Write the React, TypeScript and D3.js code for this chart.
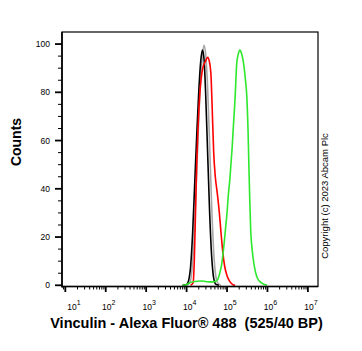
import { useEffect, useRef } from 'react';
import * as d3 from 'd3';

// histogram overlays, x in log10 units, y in counts
const blackLog = [3.9, 4.0, 4.05, 4.1, 4.15, 4.2, 4.25, 4.3, 4.35, 4.39, 4.43, 4.47, 4.52, 4.57, 4.62, 4.67, 4.72, 4.8];
const blackCounts = [0, 0.3, 2, 8, 22, 42, 62, 80, 93, 97.5, 94, 80, 55, 30, 12, 3, 0.5, 0];

const greyLog = [4.0, 4.08, 4.13, 4.18, 4.23, 4.28, 4.33, 4.38, 4.43, 4.47, 4.52, 4.57, 4.62, 4.67, 4.72, 4.77, 4.85];
const greyCounts = [0, 1, 6, 18, 38, 60, 80, 93, 99.5, 96, 82, 58, 33, 14, 4, 1, 0];

const redLog = [4.1, 4.16, 4.19, 4.22, 4.25, 4.28, 4.33, 4.4, 4.47, 4.52, 4.56, 4.6, 4.63, 4.67, 4.71, 4.76, 4.81, 4.85, 4.9, 4.94, 5.0, 5.07, 5.14, 5.2];
const redCounts = [0, 1, 10, 30, 50, 64, 80, 90, 93, 94.5, 93, 88, 75, 55, 45, 38, 30, 22, 13, 8, 4, 1.5, 0.3, 0];

const greenLog = [3.9, 4.0, 4.07, 4.2, 4.35, 4.5, 4.65, 4.75, 4.82, 4.87, 4.92, 4.96, 5.0, 5.03, 5.07, 5.1, 5.13, 5.15, 5.18, 5.2, 5.24, 5.28, 5.32, 5.36, 5.4, 5.45, 5.49, 5.52, 5.54, 5.56, 5.585, 5.62, 5.665, 5.75, 5.85, 5.99];
const greenCounts = [0, 0.3, 1, 1.6, 1.8, 1.5, 1.4, 2, 5, 9, 16, 23, 30, 37, 44, 51, 58, 64, 72, 78, 92, 96, 97.5, 96, 93, 86, 78, 64, 50, 37, 23, 15, 9, 3, 1, 0];

const yTicks = [0, 20, 40, 60, 80, 100];
const xDecades = [1, 2, 3, 4, 5, 6, 7];

export default function App() {
  const svgRef = useRef<SVGSVGElement>(null);

  useEffect(() => {
    if (!svgRef.current) return;
    const svg = d3.select(svgRef.current);
    svg.selectAll('*').remove();

    const left = 62, right = 318, top = 32, bottom = 286.5;
    const font = '"Liberation Sans", Arial, sans-serif';

    const x = d3.scaleLog().domain([Math.pow(10, 0.918), Math.pow(10, 7.25)]).range([left, right]);
    const y = d3.scaleLinear().domain([-0.5, 105]).range([bottom, top]);

    const series = [
      { log: greyLog, counts: greyCounts, color: '#a8a8a8' },
      { log: blackLog, counts: blackCounts, color: '#000000' },
      { log: redLog, counts: redCounts, color: '#ff0000' },
      { log: greenLog, counts: greenCounts, color: '#2ee82e' },
    ];

    const line = d3.line<[number, number]>()
      .x(d => x(Math.pow(10, d[0])))
      .y(d => y(d[1]))
      .curve(d3.curveMonotoneX);

    const g = svg.append('g');
    series.forEach(s => {
      const pts: [number, number][] = s.log.map((l, i) => [l, s.counts[i]]);
      g.append('path')
        .attr('d', line(pts))
        .attr('fill', 'none')
        .attr('stroke', s.color)
        .attr('stroke-width', 1.6)
        .attr('stroke-linejoin', 'round');
    });

    // frame
    svg.append('rect')
      .attr('x', left).attr('y', top)
      .attr('width', right - left).attr('height', bottom - top)
      .attr('fill', 'none').attr('stroke', '#000').attr('stroke-width', 1.2);
    svg.append('line').attr('x1', left).attr('x2', left).attr('y1', top).attr('y2', bottom + 1)
      .attr('stroke', '#000').attr('stroke-width', 1.6);
    svg.append('line').attr('x1', left).attr('x2', right).attr('y1', bottom).attr('y2', bottom)
      .attr('stroke', '#000').attr('stroke-width', 1.6);

    // y ticks
    const yMinor = d3.range(0, 105, 5).filter(v => v % 20 !== 0);
    yMinor.forEach(v => {
      svg.append('line').attr('x1', left - 4).attr('x2', left).attr('y1', y(v)).attr('y2', y(v))
        .attr('stroke', '#000').attr('stroke-width', 1);
    });
    yTicks.forEach(v => {
      svg.append('line').attr('x1', left - 7).attr('x2', left).attr('y1', y(v)).attr('y2', y(v))
        .attr('stroke', '#000').attr('stroke-width', 1.8);
      svg.append('text')
        .attr('x', 50).attr('y', y(v)).attr('dy', '0.35em')
        .attr('text-anchor', 'end')
        .style('font-family', font).style('font-size', '8.5px')
        .text(v);
    });

    // x ticks
    const [d0, d1] = x.domain();
    const minor: number[] = [];
    for (let e = 0; e <= 7; e++) {
      for (let m = 2; m <= 9; m++) {
        const v = m * Math.pow(10, e);
        if (v >= d0 && v <= d1) minor.push(v);
      }
    }
    minor.forEach(v => {
      svg.append('line').attr('x1', x(v)).attr('x2', x(v)).attr('y1', bottom).attr('y2', bottom + 3)
        .attr('stroke', '#000').attr('stroke-width', 1);
    });
    xDecades.forEach(e => {
      const px = x(Math.pow(10, e));
      svg.append('line').attr('x1', px).attr('x2', px).attr('y1', bottom).attr('y2', bottom + 5.5)
        .attr('stroke', '#000').attr('stroke-width', 1.8);
      const t = svg.append('text')
        .attr('x', Math.max(px + 3, 74)).attr('y', 310)
        .attr('text-anchor', 'middle')
        .style('font-family', font).style('font-size', '8.5px');
      t.append('tspan').text('10');
      t.append('tspan').attr('dy', -5).style('font-size', '7px').text(e);
    });

    // axis titles
    svg.append('text')
      .attr('transform', `translate(21,142) rotate(-90)`)
      .attr('text-anchor', 'middle')
      .style('font-family', font).style('font-size', '14px').style('font-weight', 'bold')
      .text('Counts');

    svg.append('text')
      .attr('x', 186.5).attr('y', 328)
      .attr('text-anchor', 'middle')
      .style('font-family', font).style('font-size', '14.5px').style('font-weight', 'bold')
      .style('white-space', 'pre')
      .text('Vinculin - Alexa Fluor® 488  (525/40 BP)');

    svg.append('text')
      .attr('transform', `translate(328,196) rotate(-90)`)
      .attr('text-anchor', 'middle')
      .style('font-family', font).style('font-size', '9.5px')
      .text('Copyright (c) 2023 Abcam Plc');
  }, []);

  return (
    <svg ref={svgRef} width={362} height={351}
      style={{ position: 'absolute', left: 0, top: 0, background: '#fff' }} />
  );
}
